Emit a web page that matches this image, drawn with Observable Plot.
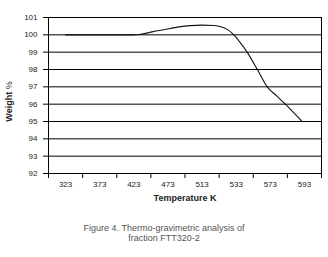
<!DOCTYPE html>
<html>
<head>
<meta charset="utf-8">
<script src="https://cdn.jsdelivr.net/npm/d3@7"></script>
<script src="https://cdn.jsdelivr.net/npm/@observablehq/plot@0.6"></script>
<style>
  body { margin: 0; background: #fff; }
  #chart { width: 328px; }
  .caption { font-family: "Liberation Sans", sans-serif; font-size: 9px; color: #555; text-align: center; width: 328px; line-height: 10px; margin-top: 13px; }
</style>
</head>
<body>
<div id="chart"></div>
<div class="caption">Figure 4. Thermo-gravimetric analysis of<br>fraction FTT320-2</div>
<script>
const categories = ["323", "373", "423", "473", "513", "533", "573", "593"];
const yTicks = [92, 93, 94, 95, 96, 97, 98, 99, 100, 101];
// position along the category axis (index units) and weight %
const pos    = [0, 1, 2, 2.15, 2.6, 3.07, 3.66, 4.0, 4.34, 4.75, 4.93, 5.12, 5.32, 5.62, 5.91, 6.2, 6.44, 6.93];
const weight = [100, 100, 100, 100.02, 100.2, 100.37, 100.53, 100.56, 100.54, 100.3, 100.0, 99.55, 99.0, 98.0, 97.0, 96.45, 96.0, 95.0];
const data = pos.map((p, i) => ({p, w: weight[i]}));

const plot = Plot.plot({
  width: 328,
  height: 210,
  marginLeft: 48,
  marginRight: 7,
  marginTop: 17,
  marginBottom: 37,
  style: {fontFamily: "Liberation Sans, sans-serif", fontSize: "8px", color: "#222", background: "#fff"},
  x: {domain: [-0.5, categories.length - 0.5], axis: null},
  y: {domain: [92, 101], axis: null},
  marks: [
    Plot.gridY(yTicks, {stroke: "#000", strokeOpacity: 1}),
    Plot.frame({stroke: "#000"}),
    Plot.axisY(yTicks, {tickSize: 5, tickPadding: 6, stroke: "#000", strokeOpacity: 1, label: null}),
    Plot.axisX(d3.range(-0.5, categories.length), {tickSize: 5, tickFormat: () => "", stroke: "#000", label: null}),
    Plot.axisX(d3.range(categories.length), {tickSize: 0, tickPadding: 8, tickFormat: i => categories[i], label: null}),
    Plot.text(["Temperature K"], {frameAnchor: "bottom", dy: 27, fontWeight: "bold", fontSize: 9, fill: "#222"}),
    Plot.text(["Weight %"], {frameAnchor: "left", textAnchor: "middle", dx: -39, dy: 6, rotate: -90, fontWeight: "bold", fontSize: 9, fill: "#222"}),
    Plot.line(data, {x: "p", y: "w", curve: "monotone-x", stroke: "#111", strokeWidth: 1.1})
  ]
});
document.getElementById("chart").appendChild(plot);
d3.select(plot).selectAll("text").filter(function(){ return this.textContent === "Weight %"; })
  .each(function(){
    const t = d3.select(this);
    t.text(null);
    t.append("tspan").text("Weight ");
    t.append("tspan").attr("font-weight", "normal").text("%");
  });
</script>
</body>
</html>
